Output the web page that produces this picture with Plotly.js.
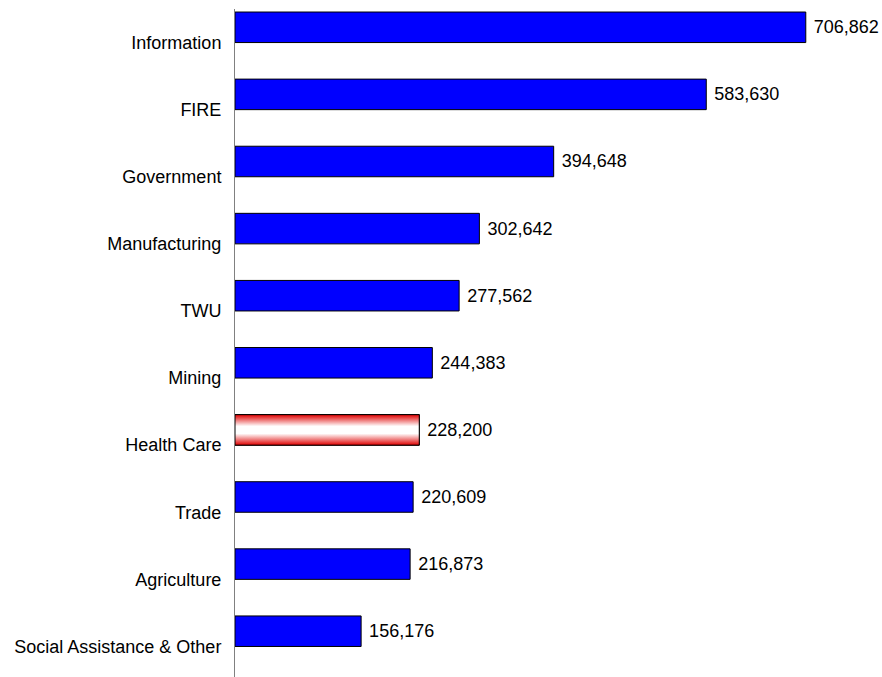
<!DOCTYPE html>
<html>
<head>
<meta charset="utf-8">
<script src="https://cdn.plot.ly/plotly-3.0.1.min.js"></script>
<style>html,body{margin:0;padding:0;background:#fff;overflow:hidden}#chart{width:882px;height:677px}</style>
</head>
<body>
<div id="chart"></div>
<script>
const categories = ["Information","FIRE","Government","Manufacturing","TWU","Mining","Health Care","Trade","Agriculture","Social Assistance & Other"];
const values = [706862,583630,394648,302642,277562,244383,228200,220609,216873,156176];
const highlight = "Health Care";

const idx = categories.map((c,i)=>i);
const BW = 0.455;
const hi = categories.indexOf(highlight);

const barColors = categories.map(c => c===highlight ? 'rgba(0,0,0,0)' : '#0000ff');
const labels = values.map(v => '\u00a0' + v.toLocaleString('en-US'));
const FONT = 'Arial, "Liberation Sans", sans-serif';

const bars = {
  type:'bar', orientation:'h',
  x: values, y: idx,
  width: BW, offset: -BW,
  marker:{color:barColors, line:{color:'#000', width:1}},
  text: labels, textposition:'outside', cliponaxis:false, constraintext:'none',
  textfont:{family:FONT, size:18, color:'#000'},
  hoverinfo:'skip', showlegend:false
};

const hv = values[hi];
const gradient = {
  type:'scatter', mode:'lines',
  x:[0, hv, hv, 0, 0],
  y:[hi-BW, hi-BW, hi, hi, hi-BW],
  fill:'toself',
  fillgradient:{type:'vertical', start: hi-BW, stop: hi,
    colorscale:[[0,'#e00000'],[0.38,'#ffffff'],[0.62,'#ffffff'],[1,'#e00000']]},
  line:{color:'#000', width:1},
  hoverinfo:'skip', showlegend:false
};

const layout = {
  width:882, height:677,
  margin:{l:235, r:1, t:9, b:0},
  paper_bgcolor:'#fff', plot_bgcolor:'#fff',
  showlegend:false, hovermode:false,
  font:{family:FONT, size:18, color:'#000'},
  xaxis:{range:[0,800000], visible:false, fixedrange:true},
  yaxis:{range:[9.455,-0.5], tickvals: idx, ticktext: categories,
    showline:true, linecolor:'#808080', linewidth:1,
    showgrid:false, zeroline:false, ticks:'', ticklabelstandoff:9,
    tickfont:{family:FONT, size:18, color:'#000'},
    automargin:false, fixedrange:true}
};

Plotly.newPlot('chart', [bars, gradient], layout, {displayModeBar:false, staticPlot:true});
</script>
</body>
</html>
